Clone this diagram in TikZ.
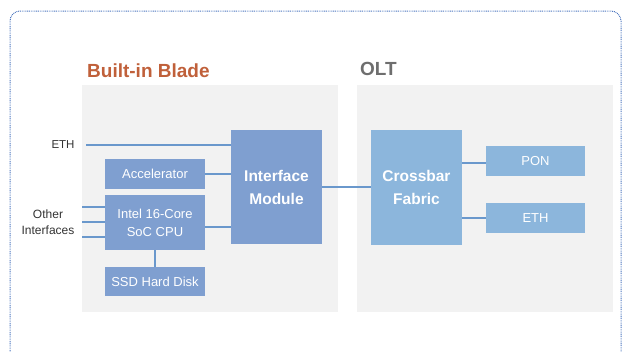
\documentclass[tikz,border=0pt]{standalone}
\usepackage{fontspec}
\setmainfont{Liberation Sans}
\definecolor{bladeblue}{HTML}{7F9FD0}
\definecolor{oltblue}{HTML}{8CB6DC}
\definecolor{linkblue}{HTML}{6A98CC}
\definecolor{panelgray}{HTML}{F2F2F2}
\definecolor{titleorange}{HTML}{C0603A}
\definecolor{titlegray}{HTML}{6E6E6E}
\definecolor{framedot}{HTML}{4F78C0}
\tikzset{
  panel/.style={fill=panelgray, draw=none},
  bladebox/.style={fill=bladeblue, draw=none, text=white, font=\fontsize{13}{15}\selectfont, align=center, inner sep=0pt},
  oltbox/.style={fill=oltblue, draw=none, text=white, font=\fontsize{13}{15}\selectfont, align=center, inner sep=0pt},
  link/.style={draw=linkblue, line width=1.1pt},
  lbl/.style={text=black!80, font=\fontsize{11.5}{13}\selectfont, align=center, inner sep=0pt},
  bigbold/.style={font=\bfseries\fontsize{15.5}{23}\selectfont},
}
\begin{document}
\begin{tikzpicture}[x=1pt, y=-1pt]
\useasboundingbox (0,0) rectangle (623,351);
% frame
\draw[framedot, line width=1pt, dash pattern=on 0.9pt off 0.9pt, rounded corners=10pt] (10,360) -- (10,11) -- (621,11) -- (621,360);
% panels
\fill[panel] (82,85) rectangle (338,312);
\fill[panel] (357,85) rectangle (613,312);
\node[anchor=base west, text=titleorange, font=\bfseries\fontsize{19}{21}\selectfont, inner sep=0pt] (tblade) at (87,77) {Built-in Blade};
\node[anchor=base west, text=titlegray, font=\bfseries\fontsize{19}{21}\selectfont, inner sep=0pt] (tolt) at (360,75) {OLT};
% blade boxes
\node[bladebox, bigbold, minimum width=91pt, minimum height=114pt] (im) at (276.5,187) {Interface\\Module};
\node[bladebox, minimum width=100pt, minimum height=30pt] (acc) at (155,174) {Accelerator};
\node[bladebox, minimum width=100pt, minimum height=55pt, font=\fontsize{13}{18}\selectfont] (cpu) at (155,222.5) {Intel 16-Core\\SoC CPU};
\node[bladebox, minimum width=100pt, minimum height=29pt] (ssd) at (155,281.5) {SSD Hard Disk};
% olt boxes
\node[oltbox, bigbold, minimum width=91pt, minimum height=115pt] (xb) at (416.5,187.5) {Crossbar\\Fabric};
\node[oltbox, minimum width=99pt, minimum height=30pt] (pon) at (535.5,161) {PON};
\node[oltbox, minimum width=99pt, minimum height=30pt] (eth2) at (535.5,218) {ETH};
% labels
\node[lbl] (ethl) at (63,145) {ETH};
\node[lbl, font=\fontsize{12}{16}\selectfont] (oth) at (48,222) {Other\\Interfaces};
\coordinate (eths) at (86,145);
\coordinate (o1) at (82,207);
\coordinate (o2) at (82,222);
\coordinate (o3) at (82,237);
% links
\draw[link] (eths) -- (eths -| im.west);
\draw[link] (acc.east) -- (acc.east -| im.west);
\draw[link] ([yshift=-4.5pt]cpu.east) -- ([yshift=-4.5pt]cpu.east -| im.west);
\draw[link] (o1) -- (o1 -| cpu.west);
\draw[link] (o2) -- (o2 -| cpu.west);
\draw[link] (o3) -- (o3 -| cpu.west);
\draw[link] (cpu.south) -- (ssd.north);
\draw[link] (im.east) -- (im.east -| xb.west);
\draw[link] ([yshift=-2pt]pon.west) -- ([yshift=-2pt]pon.west -| xb.east);
\draw[link] (eth2.west) -- (eth2.west -| xb.east);
\end{tikzpicture}
\end{document}
